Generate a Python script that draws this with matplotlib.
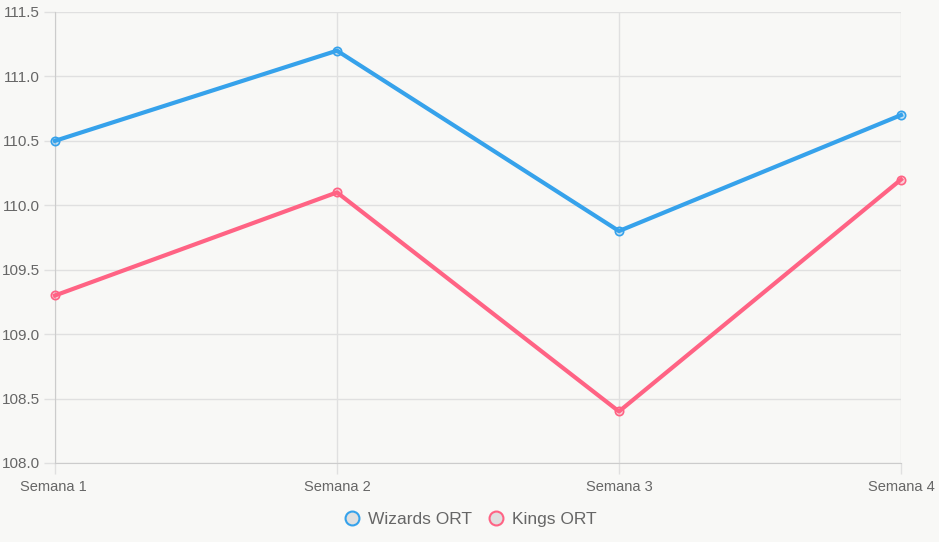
import matplotlib
matplotlib.use("Agg")
import matplotlib.pyplot as plt
import matplotlib.transforms as mtrans
from matplotlib.lines import Line2D

plt.rcParams['font.family'] = ['Liberation Sans', 'DejaVu Sans']

weeks = ["Semana 1", "Semana 2", "Semana 3", "Semana 4"]
wizards_ort = [110.5, 111.2, 109.8, 110.7]
kings_ort = [109.3, 110.1, 108.4, 110.2]

BG = "#f8f8f6"
BLUE = "#36A2EB"
PINK = "#FF6384"
GRID = "#e0e0e0"
TXT = "#666666"

fig = plt.figure(figsize=(9.39, 5.42), dpi=100, facecolor=BG)
ax = fig.add_axes([55 / 939, 79 / 542, 846 / 939, 451 / 542])
ax.set_facecolor(BG)

x = list(range(len(weeks)))
ax.plot(x, wizards_ort, color=BLUE, lw=3, marker='o', ms=6,
        mfc=(0.21, 0.64, 0.92, 0.25), mec=BLUE, mew=1.2, zorder=3, clip_on=False)
ax.plot(x, kings_ort, color=PINK, lw=3, marker='o', ms=6,
        mfc=(1.0, 0.39, 0.52, 0.25), mec=PINK, mew=1.2, zorder=3, clip_on=False)

ax.set_xlim(0, 3)
ax.set_ylim(108.0, 111.5)
ax.set_yticks([108.0, 108.5, 109.0, 109.5, 110.0, 110.5, 111.0, 111.5])
ax.set_yticklabels([f"{v:.1f}" for v in ax.get_yticks()])
ax.set_xticks(x)
ax.set_xticklabels(weeks)

ax.grid(True, color=GRID, lw=1)
ax.set_axisbelow(True)
for side in ["top", "right"]:
    ax.spines[side].set_visible(False)
ax.spines["left"].set_color("#cccccc")
ax.spines["bottom"].set_color("#cccccc")
ax.tick_params(axis='both', colors=GRID, labelcolor=TXT, length=8, width=1)
ax.tick_params(axis='y', pad=3, labelsize=11)
ax.tick_params(axis='x', pad=4, labelsize=10.5)

# first/last category labels are pushed inside the canvas, like the original
labels = ax.get_xticklabels()
labels[0].set_ha('left')
labels[-1].set_ha('right')
labels[0].set_transform(labels[0].get_transform() + mtrans.ScaledTranslation(-35 / 100, 0, fig.dpi_scale_trans))
labels[-1].set_transform(labels[-1].get_transform() + mtrans.ScaledTranslation(34 / 100, 0, fig.dpi_scale_trans))

handles = [
    Line2D([], [], ls='none', marker='o', ms=10, mfc='#e0e0e0', mec=BLUE, mew=1.5),
    Line2D([], [], ls='none', marker='o', ms=10, mfc='#e0e0e0', mec=PINK, mew=1.5),
]
fig.legend(handles, ["Wizards ORT", "Kings ORT"], loc='center', bbox_to_anchor=(469 / 939, 1 - 519 / 542),
           ncol=2, frameon=False, fontsize=12.5, labelcolor=TXT, handletextpad=0.3,
           columnspacing=0.8, handlelength=1.2)

fig.savefig("out.png", dpi=100, facecolor=BG)
